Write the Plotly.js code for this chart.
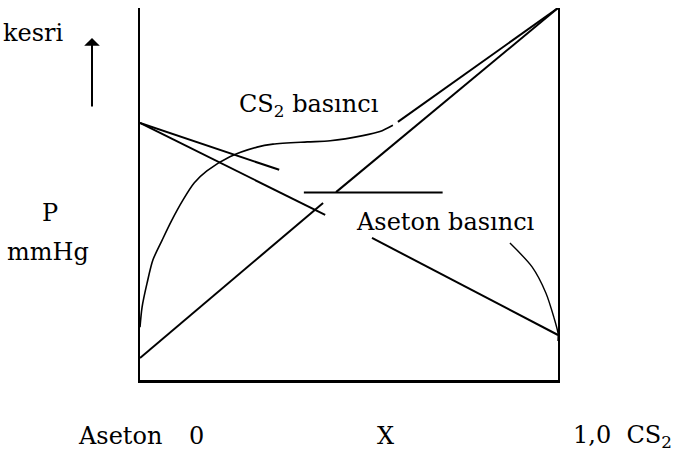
<!DOCTYPE html>
<html>
<head>
<meta charset="utf-8">
<script src="https://cdn.plot.ly/plotly-3.0.1.min.js"></script>
<style>html,body{margin:0;padding:0;background:#fff;}#chart{width:682px;height:453px;}</style>
</head>
<body>
<div id="chart"></div>
<script>
// Mole fraction of CS2 (0 = pure acetone, 1 = pure CS2) and relative pressure
const cs2LineAX = [0, 0.438];
const cs2LineAY = [0.059, 0.476];
const cs2LineBX = [0.469, 1.0];
const cs2LineBY = [0.505, 1.0];

const acetoneLineAX = [0, 0.443];
const acetoneLineAY = [0.691, 0.444];
const acetoneLineBX = [0.555, 1.0];
const acetoneLineBY = [0.382, 0.121];

const tangentX = [0, 0.333];
const tangentY = [0.691, 0.565];

const plateauX = [0.392, 0.724];
const plateauY = [0.504, 0.504];

const cs2CurveX = [0, 0.005, 0.017, 0.031, 0.053, 0.075, 0.103, 0.13, 0.16, 0.215, 0.28, 0.318, 0.40, 0.455, 0.533, 0.574, 0.605];
const cs2CurveY = [0.142, 0.196, 0.261, 0.323, 0.376, 0.427, 0.484, 0.530, 0.562, 0.600, 0.626, 0.634, 0.640, 0.643, 0.657, 0.668, 0.685];
const cs2UpperX = [0.617, 1.0];
const cs2UpperY = [0.694, 1.0];

const acetoneArcX = [0.885, 0.938, 0.971, 0.990, 1.0, 1.0];
const acetoneArcY = [0.368, 0.304, 0.234, 0.169, 0.126, 0.105];

const bottomLabels = ["Aseton", "0", "X", "1,0  CS<sub>2</sub>"];
const bottomLabelPx = [120, 196, 385, 622];

const W = 682, H = 453, L = 140, R = 558, T = 8, B = 380;
const px = X => (X - L) / (R - L);
const py = Y => (B - Y) / (B - T);

const FONT = "DejaVu Serif";
const fs = 24;

function seg(x, y, w) {
  return {x: x, y: y, type: 'scatter', mode: 'lines', line: {color: '#000', width: w, shape: 'spline', smoothing: 0.8}, hoverinfo: 'skip', showlegend: false};
}

const data = [
  seg(cs2LineAX, cs2LineAY, 2),
  seg(cs2LineBX, cs2LineBY, 2),
  seg(acetoneLineAX, acetoneLineAY, 2),
  seg(acetoneLineBX, acetoneLineBY, 2),
  seg(tangentX, tangentY, 2),
  seg(plateauX, plateauY, 2.2),
  seg(cs2CurveX, cs2CurveY, 1.6),
  seg(cs2UpperX, cs2UpperY, 2),
  seg(acetoneArcX, acetoneArcY, 1.4)
];

const ann = [];
function txt(t, X, Y) {
  ann.push({text: t, xref: 'paper', yref: 'paper', x: px(X), y: py(Y), xanchor: 'center', yanchor: 'middle', showarrow: false, font: {family: FONT, size: fs, color: '#000'}});
}
txt("kesri", 33, 33);
txt("P", 50, 213);
txt("mmHg", 48, 252);
txt("CS<sub>2</sub> basıncı", 309, 105);
txt("Aseton basıncı", 445, 222);
bottomLabels.forEach((t, i) => txt(t, bottomLabelPx[i], 436));

ann.push({text: '', xref: 'paper', yref: 'paper', x: px(92), y: py(38), ax: 0, ay: 70, showarrow: true, arrowhead: 1, arrowsize: 1.3, arrowwidth: 2, arrowcolor: '#000'});

const layout = {
  width: W, height: H,
  margin: {l: L, r: W - R, t: T, b: H - B, pad: 0},
  paper_bgcolor: '#fff', plot_bgcolor: '#fff',
  showlegend: false,
  font: {family: FONT},
  xaxis: {range: [0, 1], showline: true, linecolor: '#000', linewidth: 2.5, showgrid: false, zeroline: false, showticklabels: false, ticks: ''},
  yaxis: {range: [0, 1], showline: true, linecolor: '#000', linewidth: 2.5, showgrid: false, zeroline: false, showticklabels: false, ticks: ''},
  yaxis2: {range: [0, 1], overlaying: 'y', side: 'right', showline: true, linecolor: '#000', linewidth: 2, showgrid: false, zeroline: false, showticklabels: false, ticks: ''},
  annotations: ann
};
data.push({x: [0.5], y: [0.5], yaxis: 'y2', type: 'scatter', mode: 'markers', marker: {opacity: 0}, hoverinfo: 'skip', showlegend: false});

Plotly.newPlot('chart', data, layout, {staticPlot: true, displayModeBar: false});
</script>
</body>
</html>
